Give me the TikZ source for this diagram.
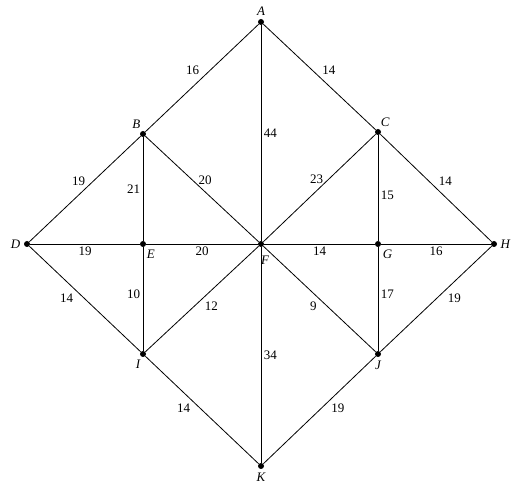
\documentclass[tikz,border=0pt]{standalone}
\usepackage{fontspec}
\setmainfont{Liberation Serif}
\usetikzlibrary{positioning}
\tikzset{
  % vertex style
  vtx/.style={
    circle
    , fill=black
    , inner sep=0pt
    , minimum size=6pt
    , label distance=1pt
  },
}
\tikzset{
  % edge style
  garr/.style={
    line width = 0.8pt
  },
  % weight label style
  wt/.style={
    inner sep=2.5pt
    , font=\fontsize{13}{15}\selectfont
  },
  every label/.style={font=\fontsize{13}{15}\selectfont\itshape},
}
\begin{document}
\begin{tikzpicture}[x=1pt, y=-1pt]
      \useasboundingbox (0,0) rectangle (528,494);
      \node[vtx, label={above:A}] (a) at (261,22) {};
      \node[vtx, label={[xshift=3pt]above left:B}] (b) at (143,134) {};
      \node[vtx, label={[xshift=-3pt]above right:C}] (c) at (378,132) {};
      \node[vtx, label={left:D}] (d) at (27,244) {};
      \node[vtx, label={[xshift=-2pt]below right:E}] (e) at (143,244) {};
      \node[vtx, label={[xshift=4pt,yshift=-5pt]below:F}] (f) at (261,244) {};
      \node[vtx, label={[xshift=-1pt]below right:G}] (g) at (378,244) {};
      \node[vtx, label={right:H}] (h) at (494,244) {};
      \node[vtx, label={[xshift=3pt]below left:I}] (i) at (143,354) {};
      \node[vtx, label={below:J}] (j) at (378,354) {};
      \node[vtx, label={below:K}] (k) at (261,466) {};

      \draw[garr] (a) -- node[wt, above left] {16} (b);
      \draw[garr] (a) -- node[wt, above right] {14} (c);
      \draw[garr] (a) -- node[wt, right, pos=0.5] {44} (f);
      \draw[garr] (b) -- node[wt, above left, xshift=3pt] {19} (d);
      \draw[garr] (b) -- node[wt, left] {21} (e);
      \draw[garr] (b) -- node[wt, above, xshift=3pt, yshift=1pt] {20} (f);
      \draw[garr] (c) -- node[wt, above, xshift=-3pt, yshift=1pt] {23} (f);
      \draw[garr] (c) -- node[wt, right, pos=0.57] {15} (g);
      \draw[garr] (c) -- node[wt, above right] {14} (h);
      \draw[garr] (d) -- node[wt, below] {19} (e);
      \draw[garr] (e) -- node[wt, below] {20} (f);
      \draw[garr] (f) -- node[wt, below] {14} (g);
      \draw[garr] (g) -- node[wt, below] {16} (h);
      \draw[garr] (d) -- node[wt, below left, pos=0.42] {14} (i);
      \draw[garr] (e) -- node[wt, left, pos=0.45] {10} (i);
      \draw[garr] (f) -- node[wt, below right, pos=0.5] {12} (i);
      \draw[garr] (f) -- node[wt, below left, pos=0.5] {9} (j);
      \draw[garr] (g) -- node[wt, right, pos=0.45] {17} (j);
      \draw[garr] (h) -- node[wt, below right, pos=0.42] {19} (j);
      \draw[garr] (f) -- node[wt, right] {34} (k);
      \draw[garr] (i) -- node[wt, below left, pos=0.42] {14} (k);
      \draw[garr] (j) -- node[wt, below right, pos=0.42] {19} (k);
\end{tikzpicture}
\end{document}
